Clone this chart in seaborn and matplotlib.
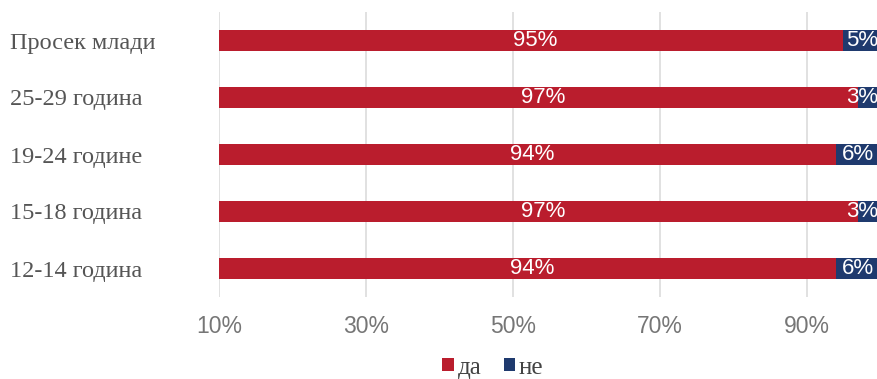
import matplotlib
matplotlib.use("Agg")
import matplotlib.pyplot as plt
import seaborn as sns
import pandas as pd

# Survey answers by age group (percent)
groups = ["Просек млади", "25-29 година", "19-24 године", "15-18 година", "12-14 година"]
yes_pct = [95, 97, 94, 97, 94]
no_pct = [5, 3, 6, 3, 6]
x_ticks = [10, 30, 50, 70, 90]

RED = "#BA1D2D"
BLUE = "#1F3A6E"

df = pd.DataFrame({"group": groups, "да": yes_pct, "не": no_pct})
df["total"] = df["да"] + df["не"]

sns.set_theme(style="white")
fig = plt.figure(figsize=(8.77, 3.79), dpi=100)
ax = fig.add_axes([219 / 877, 82 / 379, 661 / 877, 285 / 379])

# stacked horizontal bars: full length in blue, "да" part in red on top
sns.barplot(data=df, x="total", y="group", orient="h", color=BLUE,
            width=0.37, saturation=1, linewidth=0, ax=ax, label="не")
sns.barplot(data=df, x="да", y="group", orient="h", color=RED,
            width=0.37, saturation=1, linewidth=0, ax=ax, label="да")

ax.set_xlim(10, 100)
ax.set_xticks(x_ticks)
ax.set_xticklabels([f"{t}%" for t in x_ticks], family="Liberation Sans",
                   fontsize=16.5, color="#767676")
ax.set_yticks(range(len(groups)))
ax.set_yticklabels(groups, family="Liberation Serif", fontsize=17.5, color="#555555")
ax.tick_params(axis="x", length=0, pad=13)
ax.tick_params(axis="y", length=0, pad=0)
for lbl in ax.get_yticklabels():
    lbl.set_horizontalalignment("left")
    lbl.set_x(-209 / 661)
ax.set_xlabel("")
ax.set_ylabel("")
ax.grid(axis="x", color="#dcdcdc", linewidth=1.2)
ax.grid(axis="y", visible=False)
ax.set_axisbelow(True)
for s in ax.spines.values():
    s.set_visible(False)

# value labels centered on the visible part of each segment
lo = ax.get_xlim()[0]
for i, (y, n) in enumerate(zip(yes_pct, no_pct)):
    ax.text((lo + y) / 2 + 0.6, i, f"{y}%", ha="center", va="center",
            color="white", fontsize=16, family="Liberation Sans")
    ax.text(min(y + n / 2, 97.6), i, f"{n}%", ha="center", va="center",
            color="white", fontsize=16, family="Liberation Sans")

handles, labels = ax.get_legend_handles_labels()
order = [labels.index("да"), labels.index("не")]
if ax.get_legend() is not None:
    ax.get_legend().remove()
fig.legend([handles[k] for k in order], [labels[k] for k in order],
           loc="center", bbox_to_anchor=(0.562, 0.03), ncol=2, frameon=False,
           handlelength=0.45, handleheight=0.45, handletextpad=0.15,
           columnspacing=0.9, prop={"family": "Liberation Serif", "size": 18},
           labelcolor="#444444")

fig.savefig("out.png", dpi=100)
